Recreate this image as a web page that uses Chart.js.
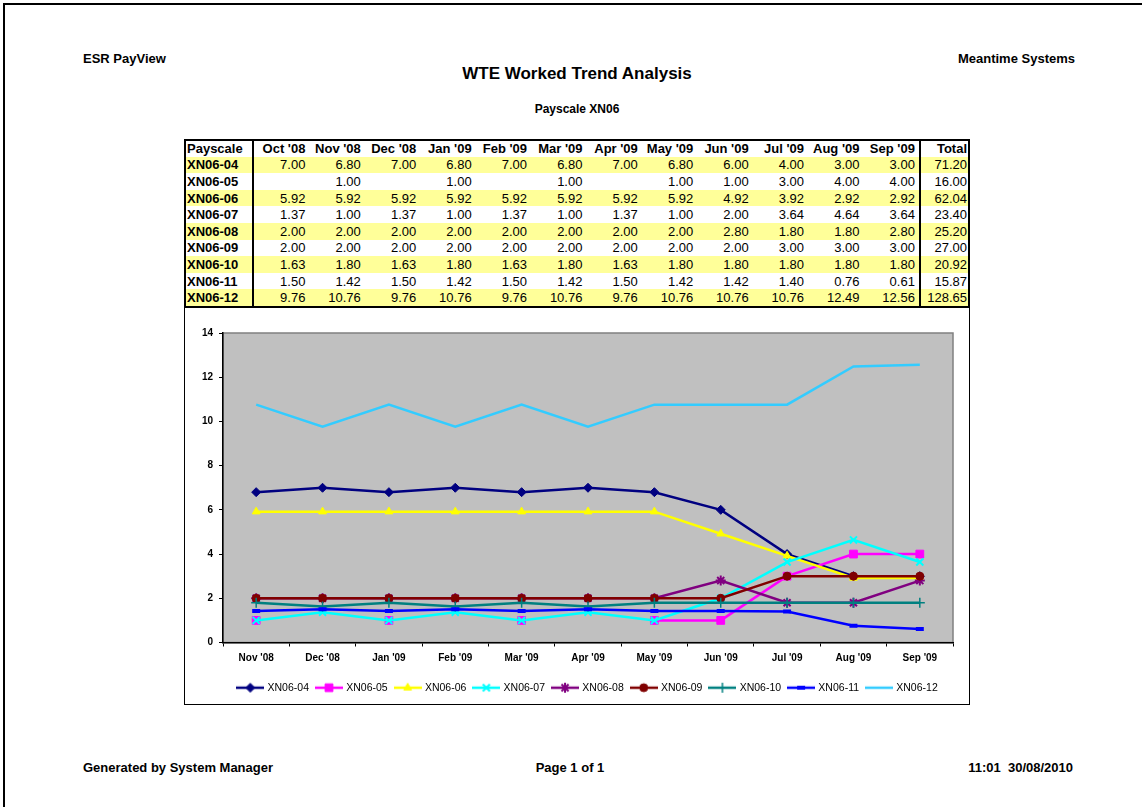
<!DOCTYPE html>
<html>
<head>
<meta charset="utf-8">
<title>WTE Worked Trend Analysis</title>
<script src="https://cdn.jsdelivr.net/npm/chart.js@4.4.1/dist/chart.umd.min.js"></script>
<style>
  html, body { margin: 0; padding: 0; background: #fff; }
  body { width: 1142px; height: 807px; position: relative; overflow: hidden;
         font-family: "Liberation Sans", Arial, sans-serif; color: #000; }
  .frame { position: absolute; left: 3px; top: 3px; width: 1300px; height: 1000px;
           border-left: 2px solid #000; border-top: 2px solid #000; }
  .txt { position: absolute; font-weight: bold; font-size: 13px; line-height: 15px; white-space: nowrap; }
  .center { left: 0; width: 1154px; text-align: center; }
  #title { top: 64px; font-size: 17px; line-height: 20px; }
  #subtitle { top: 102px; font-size: 12px; }
  #grid { position: absolute; left: 184px; top: 139px; width: 786px; box-sizing: border-box;
          border: 2px solid #000; border-collapse: separate; border-spacing: 0; table-layout: fixed;
          font-size: 13px; }
  #grid td, #grid th { box-sizing: border-box; padding: 0 4px 0 0; text-align: right; white-space: nowrap;
                       font-weight: normal; line-height: 15px; overflow: hidden; }
  #grid tr { height: 16.6px; }
  #grid tr.head { height: 15.7px; }
  #grid tr.head th { font-weight: bold; vertical-align: top; }
  #grid tr.band { background: #ffff99; }
  #grid .lab { text-align: left; padding: 0 0 0 1px; font-weight: bold; border-right: 2px solid #000; }
  #grid .tot { border-left: 2px solid #000; padding-right: 1px; }
  #chartBox { position: absolute; left: 184px; top: 308px; width: 784px; height: 396px;
              border: 1px solid #000; border-top: none; background: #fff; }
  #chartBox canvas { display: block; }
</style>
</head>
<body>
<div class="frame"></div>
<div class="txt" style="left:83px; top:51px;">ESR PayView</div>
<div class="txt" style="right:67px; top:51px;">Meantime Systems</div>
<div class="txt center" id="title">WTE Worked Trend Analysis</div>
<div class="txt center" id="subtitle">Payscale XN06</div>
<table id="grid"></table>
<div id="chartBox"><canvas id="trend" width="784" height="396"></canvas></div>
<div class="txt" style="left:83px; top:760px;">Generated by System Manager</div>
<div class="txt center" style="top:760px; width:1140px;">Page 1 of 1</div>
<div class="txt" style="right:69px; top:760px;">11:01&nbsp; 30/08/2010</div>

<script>
// months in the table; the chart starts at Nov '08
const MONTHS = ["Oct '08", "Nov '08", "Dec '08", "Jan '09", "Feb '09", "Mar '09",
                "Apr '09", "May '09", "Jun '09", "Jul '09", "Aug '09", "Sep '09"];
const PAYSCALES = ['XN06-04', 'XN06-05', 'XN06-06', 'XN06-07', 'XN06-08',
                   'XN06-09', 'XN06-10', 'XN06-11', 'XN06-12'];

const XN06_04 = [7.00, 6.80, 7.00, 6.80, 7.00, 6.80, 7.00, 6.80, 6.00, 4.00, 3.00, 3.00];
const XN06_05 = [null, 1.00, null, 1.00, null, 1.00, null, 1.00, 1.00, 3.00, 4.00, 4.00];
const XN06_06 = [5.92, 5.92, 5.92, 5.92, 5.92, 5.92, 5.92, 5.92, 4.92, 3.92, 2.92, 2.92];
const XN06_07 = [1.37, 1.00, 1.37, 1.00, 1.37, 1.00, 1.37, 1.00, 2.00, 3.64, 4.64, 3.64];
const XN06_08 = [2.00, 2.00, 2.00, 2.00, 2.00, 2.00, 2.00, 2.00, 2.80, 1.80, 1.80, 2.80];
const XN06_09 = [2.00, 2.00, 2.00, 2.00, 2.00, 2.00, 2.00, 2.00, 2.00, 3.00, 3.00, 3.00];
const XN06_10 = [1.63, 1.80, 1.63, 1.80, 1.63, 1.80, 1.63, 1.80, 1.80, 1.80, 1.80, 1.80];
const XN06_11 = [1.50, 1.42, 1.50, 1.42, 1.50, 1.42, 1.50, 1.42, 1.42, 1.40, 0.76, 0.61];
const XN06_12 = [9.76, 10.76, 9.76, 10.76, 9.76, 10.76, 9.76, 10.76, 10.76, 10.76, 12.49, 12.56];
const TOTALS  = [71.20, 16.00, 62.04, 23.40, 25.20, 27.00, 20.92, 15.87, 128.65];

const SERIES = [XN06_04, XN06_05, XN06_06, XN06_07, XN06_08, XN06_09, XN06_10, XN06_11, XN06_12];

// Excel-ish series look: colour, marker, marker size, marker stroke
const STYLES = [
  { color: '#000080', marker: 'rectRot',  r: 4.5, bw: 1 },
  { color: '#ff00ff', marker: 'rect',     r: 5.5, bw: 1 },
  { color: '#ffff00', marker: 'triangle', r: 4.5, bw: 1 },
  { color: '#00ffff', marker: 'crossRot', r: 5,   bw: 2 },
  { color: '#800080', marker: 'star',     r: 5,   bw: 2 },
  { color: '#800000', marker: 'circle',   r: 4,   bw: 1 },
  { color: '#008080', marker: 'cross',    r: 5,   bw: 1.5 },
  { color: '#0000ff', marker: 'line',     r: 4,   bw: 4 },
  { color: '#33ccff', marker: 'circle',   r: 0,   bw: 0 }
];

// ---- table above the chart ----
function buildTable() {
  const fmt = v => (v === null ? '' : v.toFixed(2));
  let html = '<colgroup><col style="width:68px">' +
    MONTHS.map(() => '<col style="width:55.42px">').join('') +
    '<col style="width:49px"></colgroup>';
  html += '<tr class="head"><th class="lab">Payscale</th>' +
    MONTHS.map(m => '<th>' + m + '</th>').join('') +
    '<th class="tot">Total</th></tr>';
  PAYSCALES.forEach((name, i) => {
    html += '<tr' + (i % 2 === 0 ? ' class="band"' : '') + '><td class="lab">' + name + '</td>' +
      SERIES[i].map(v => '<td>' + fmt(v) + '</td>').join('') +
      '<td class="tot">' + fmt(TOTALS[i]) + '</td></tr>';
  });
  document.getElementById('grid').innerHTML = html;
}

// small line + marker swatch used as legend point style
function legendIcon(st) {
  const c = document.createElement('canvas');
  c.width = 28; c.height = 14;
  const g = c.getContext('2d');
  g.strokeStyle = st.color;
  g.fillStyle = st.color;
  g.lineWidth = 2.5;
  g.beginPath();
  g.moveTo(0, 7);
  g.lineTo(28, 7);
  g.stroke();
  if (st.r > 0) {
    g.lineWidth = st.bw;
    Chart.helpers.drawPoint(g, { pointStyle: st.marker, radius: st.r, rotation: 0, borderWidth: st.bw }, 14, 7);
  }
  return c;
}

// grey plot area with a darker frame, like the Excel chart
const plotAreaPlugin = {
  id: 'plotArea',
  beforeDraw(chart) {
    const { ctx, chartArea: a } = chart;
    ctx.save();
    ctx.fillStyle = '#c0c0c0';
    ctx.fillRect(a.left, a.top, a.right - a.left, a.bottom - a.top);
    ctx.strokeStyle = '#808080';
    ctx.lineWidth = 1.5;
    ctx.strokeRect(a.left, a.top, a.right - a.left, a.bottom - a.top);
    ctx.restore();
  }
};

function init() {
  buildTable();
  Chart.defaults.font.family = '"Liberation Sans", Arial, sans-serif';

  const icons = STYLES.map(legendIcon);
  const datasets = PAYSCALES.map((name, i) => {
    const st = STYLES[i];
    return {
      label: name,
      data: SERIES[i].slice(1),
      borderColor: st.color,
      backgroundColor: st.color,
      borderWidth: 2.5,
      pointStyle: st.marker,
      pointRadius: st.r,
      pointBorderWidth: st.bw,
      pointBackgroundColor: st.color,
      pointBorderColor: st.color,
      tension: 0,
      spanGaps: false,
      order: PAYSCALES.length - i   // later series drawn on top
    };
  });

  new Chart(document.getElementById('trend'), {
    type: 'line',
    data: { labels: MONTHS.slice(1), datasets: datasets },
    options: {
      responsive: false,
      animation: false,
      events: [],
      layout: { padding: { top: 25, right: 16, left: 0, bottom: 1 } },
      plugins: {
        tooltip: { enabled: false },
        legend: {
          position: 'bottom',
          fullSize: false,
          labels: {
            usePointStyle: true,
            pointStyleWidth: 24,
            padding: 8,
            color: '#000',
            font: { size: 10.5 },
            generateLabels: chart => chart.data.datasets.map((ds, i) => ({
              text: ds.label,
              pointStyle: icons[i],
              datasetIndex: i,
              hidden: false,
              fillStyle: ds.borderColor,
              strokeStyle: ds.borderColor,
              lineWidth: 0
            }))
          }
        }
      },
      scales: {
        x: {
          offset: true,
          grid: { offset: true, drawOnChartArea: false, tickLength: 4, color: '#000' },
          border: { color: '#000', width: 1.5 },
          ticks: { color: '#000', font: { size: 10, weight: 'bold' }, padding: 6,
                   maxRotation: 0, autoSkip: false },
          afterFit: s => { s.height = 32; }
        },
        y: {
          min: 0,
          max: 14,
          grid: { drawOnChartArea: false, tickLength: 4, color: '#000' },
          border: { color: '#000', width: 1.5 },
          ticks: { stepSize: 2, color: '#000', font: { size: 10, weight: 'bold' }, padding: 6 },
          afterFit: s => { s.width = 38; }
        }
      }
    },
    plugins: [plotAreaPlugin]
  });
}

if (document.readyState === 'loading') {
  document.addEventListener('DOMContentLoaded', init);
} else {
  init();
}
</script>
</body>
</html>
